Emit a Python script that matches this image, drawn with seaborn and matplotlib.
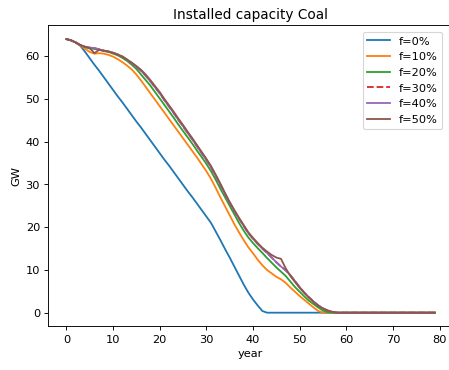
import matplotlib
matplotlib.use("Agg")
import matplotlib.pyplot as plt
import pandas as pd
import seaborn as sns

# Scenario labels and line colours
scenarios = ["f=0%", "f=10%", "f=20%", "f=30%", "f=40%", "f=50%"]
colors = ["#1f77b4", "#ff7f0e", "#2ca02c", "#d62728", "#9467bd", "#8c564b"]

years = list(range(80))

# Installed coal capacity (GW) per year for each scenario
f0 = [64.0, 63.7, 63.2, 62.4, 61.0, 59.5, 58.0, 56.6, 55.1, 53.6,
      52.1, 50.6, 49.2, 47.7, 46.2, 44.7, 43.3, 41.8, 40.3, 38.8,
      37.3, 35.8, 34.4, 32.9, 31.4, 29.9, 28.4, 27.0, 25.5, 24.0,
      22.5, 21.0, 19.0, 17.0, 14.9, 12.9, 10.8, 8.7, 6.6, 4.7,
      3.1, 1.7, 0.4, 0.0, 0.0, 0.0, 0.0, 0.0, 0.0, 0.0,
      0.0, 0.0, 0.0, 0.0, 0.0, 0.0, 0.0, 0.0, 0.0, 0.0,
      0.0, 0.0, 0.0, 0.0, 0.0, 0.0, 0.0, 0.0, 0.0, 0.0,
      0.0, 0.0, 0.0, 0.0, 0.0, 0.0, 0.0, 0.0, 0.0, 0.0]
f10 = [64.0, 63.7, 63.2, 62.5, 61.7, 61.0, 60.6, 60.7, 60.6, 60.3,
       59.9, 59.3, 58.6, 57.8, 56.9, 55.7, 54.3, 52.8, 51.3, 49.8,
       48.3, 46.8, 45.3, 43.8, 42.3, 40.8, 39.3, 37.8, 36.3, 34.7,
       33.1, 31.3, 29.2, 27.0, 24.9, 22.8, 20.7, 18.8, 17.0, 15.3,
       13.9, 12.4, 11.1, 10.0, 9.2, 8.4, 7.8, 7.0, 5.9, 4.9,
       3.9, 3.0, 2.1, 1.2, 0.4, 0.0, 0.0, 0.0, 0.0, 0.0,
       0.0, 0.0, 0.0, 0.0, 0.0, 0.0, 0.0, 0.0, 0.0, 0.0,
       0.0, 0.0, 0.0, 0.0, 0.0, 0.0, 0.0, 0.0, 0.0, 0.0]
f20 = [64.0, 63.7, 63.2, 62.6, 62.1, 61.8, 61.7, 61.5, 61.2, 61.0,
       60.6, 60.2, 59.6, 58.9, 58.0, 57.0, 55.7, 54.4, 53.1, 51.6,
       50.1, 48.6, 47.1, 45.6, 44.0, 42.5, 41.0, 39.5, 37.9, 36.4,
       34.8, 33.1, 31.1, 29.0, 27.0, 25.0, 23.0, 21.0, 19.2, 17.6,
       16.3, 15.1, 14.0, 12.8, 11.7, 10.6, 9.6, 8.6, 7.3, 6.0,
       4.9, 3.8, 2.8, 2.0, 1.2, 0.5, 0.1, 0.0, 0.0, 0.0,
       0.0, 0.0, 0.0, 0.0, 0.0, 0.0, 0.0, 0.0, 0.0, 0.0,
       0.0, 0.0, 0.0, 0.0, 0.0, 0.0, 0.0, 0.0, 0.0, 0.0]
f30 = [64.0, 63.7, 63.2, 62.6, 62.2, 62.0, 61.9, 61.6, 61.3, 61.1,
       60.8, 60.4, 59.9, 59.2, 58.4, 57.5, 56.6, 55.4, 54.1, 52.7,
       51.3, 49.7, 48.2, 46.7, 45.1, 43.6, 42.0, 40.5, 38.9, 37.3,
       35.7, 34.0, 32.0, 29.9, 27.8, 25.7, 23.8, 22.0, 20.3, 18.6,
       17.3, 16.1, 15.0, 14.0, 12.9, 11.8, 10.8, 9.9, 8.8, 7.4,
       6.0, 4.7, 3.6, 2.6, 1.7, 1.0, 0.5, 0.2, 0.0, 0.0,
       0.0, 0.0, 0.0, 0.0, 0.0, 0.0, 0.0, 0.0, 0.0, 0.0,
       0.0, 0.0, 0.0, 0.0, 0.0, 0.0, 0.0, 0.0, 0.0, 0.0]
f40 = [64.0, 63.7, 63.2, 62.6, 62.2, 62.0, 61.9, 61.6, 61.3, 61.1,
       60.8, 60.4, 59.9, 59.2, 58.4, 57.5, 56.6, 55.4, 54.1, 52.7,
       51.3, 49.7, 48.2, 46.7, 45.1, 43.6, 42.0, 40.5, 38.9, 37.3,
       35.7, 34.0, 32.0, 29.9, 27.8, 25.7, 23.8, 22.0, 20.3, 18.6,
       17.3, 16.1, 15.0, 14.0, 12.9, 11.8, 10.8, 9.9, 8.8, 7.4,
       6.0, 4.7, 3.6, 2.6, 1.7, 1.0, 0.5, 0.2, 0.0, 0.0,
       0.0, 0.0, 0.0, 0.0, 0.0, 0.0, 0.0, 0.0, 0.0, 0.0,
       0.0, 0.0, 0.0, 0.0, 0.0, 0.0, 0.0, 0.0, 0.0, 0.0]
f50 = [64.0, 63.7, 63.2, 62.6, 62.2, 61.9, 60.7, 61.5, 61.3, 61.1,
       60.8, 60.4, 59.9, 59.2, 58.5, 57.7, 56.8, 55.7, 54.4, 53.0,
       51.6, 50.0, 48.5, 47.0, 45.4, 43.9, 42.3, 40.8, 39.2, 37.6,
       36.0, 34.3, 32.3, 30.2, 28.0, 25.9, 24.0, 22.2, 20.5, 18.8,
       17.5, 16.3, 15.2, 14.3, 13.5, 12.9, 12.6, 10.4, 8.6, 7.2,
       5.8, 4.6, 3.5, 2.5, 1.6, 1.0, 0.5, 0.2, 0.0, 0.0,
       0.0, 0.0, 0.0, 0.0, 0.0, 0.0, 0.0, 0.0, 0.0, 0.0,
       0.0, 0.0, 0.0, 0.0, 0.0, 0.0, 0.0, 0.0, 0.0, 0.0]

series = [f0, f10, f20, f30, f40, f50]

df = pd.concat(
    [pd.DataFrame({"year": years, "GW": vals, "scenario": name})
     for name, vals in zip(scenarios, series)],
    ignore_index=True,
)

DPI = 81.5
fig = plt.figure(figsize=(449.3 / DPI, 370.3 / DPI), dpi=DPI)
ax = fig.add_axes([48 / 449, (370 - 326.4) / 370, 405 / 449, (326.4 - 25.7) / 370])

dashes = {name: "" for name in scenarios}
dashes["f=30%"] = (3.7, 1.6)

sns.lineplot(
    data=df, x="year", y="GW",
    hue="scenario", style="scenario",
    hue_order=scenarios, style_order=scenarios,
    palette=colors, dashes=dashes,
    linewidth=1.6, ax=ax,
)

ax.set_title("Installed capacity Coal")
ax.set_xlabel("year")
ax.set_ylabel("GW")

handles, labels = ax.get_legend_handles_labels()
ax.legend(handles, labels, loc="upper right",
          bbox_to_anchor=(442 / 449, 1 - 32 / 370),
          bbox_transform=fig.transFigure, borderaxespad=0)

fig.savefig("out.png", dpi=DPI)
